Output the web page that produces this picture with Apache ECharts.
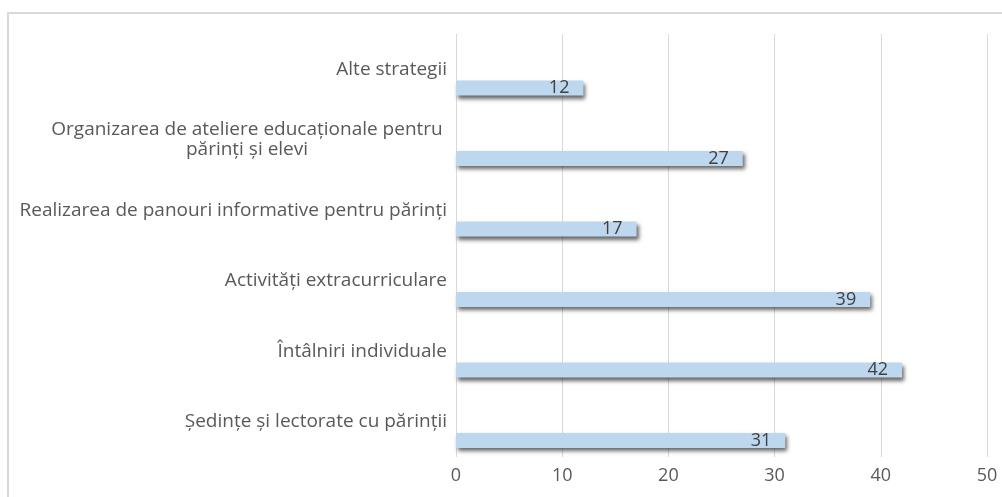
<!DOCTYPE html>
<html>
<head>
<meta charset="utf-8">
<script src="https://cdn.jsdelivr.net/npm/echarts@6/dist/echarts.min.js"></script>
<style>
  html, body { margin: 0; padding: 0; background: #ffffff; }
  #chart { width: 1002px; height: 497px; }
</style>
</head>
<body>
<div id="chart"></div>
<script>
// Strategies, listed top to bottom
const categories = [
  'Alte strategii',
  'Organizarea de ateliere educaționale pentru\npărinți și elevi',
  'Realizarea de panouri informative pentru părinți',
  'Activități extracurriculare',
  'Întâlniri individuale',
  'Ședințe și lectorate cu părinții'
];
// Number of responses per strategy
const values = [12, 27, 17, 39, 42, 31];
// Value axis ticks
const axisMin = 0;
const axisMax = 50;
const axisStep = 10;

const FONT = '"Open Sans", "Liberation Sans", sans-serif';
const chart = echarts.init(document.getElementById('chart'), null, { renderer: 'canvas' });

chart.setOption({
  backgroundColor: '#ffffff',
  animation: false,
  graphic: [{
    type: 'polyline',
    silent: true,
    shape: { points: [[8, 510], [8, 13], [1010, 13]] },
    style: { stroke: '#d9d9d9', lineWidth: 2, fill: null }
  }],
  grid: { left: 456, right: 15, top: 34, bottom: 40 },
  xAxis: {
    type: 'value',
    min: axisMin,
    max: axisMax,
    interval: axisStep,
    axisLine: { show: false },
    axisTick: { show: false },
    axisLabel: { color: '#595959', fontSize: 18, fontFamily: FONT, margin: 10 },
    splitLine: { show: true, lineStyle: { color: '#d9d9d9', width: 1 } }
  },
  yAxis: {
    type: 'category',
    inverse: true,
    data: categories,
    axisLine: { show: false },
    axisTick: { show: false },
    splitLine: { show: false },
    axisLabel: {
      margin: 9,
      color: '#595959',
      fontSize: 19,
      fontFamily: FONT,
      lineHeight: 20,
      // wrapped labels keep their lines centred on one another
      formatter: function (v) {
        const lines = v.split('\n');
        if (lines.length === 1) return v;
        return lines.map(function (line) { return '{c|' + line + '}'; }).join('\n');
      },
      rich: {
        c: { width: 400, align: 'center', color: '#595959', fontSize: 19, fontFamily: FONT, lineHeight: 20 }
      }
    }
  },
  series: [
    {
      // empty slot that pushes each bar below its category label
      type: 'bar',
      silent: true,
      barWidth: 15,
      barGap: '150%',
      data: values.map(function () { return 0; }),
      itemStyle: { color: 'rgba(0,0,0,0)' },
      label: { show: false }
    },
    {
      type: 'bar',
      barWidth: 15,
      barGap: '150%',
      data: values,
      itemStyle: {
        color: '#bdd7ee',
        shadowColor: 'rgba(0,0,0,0.6)',
        shadowBlur: 4,
        shadowOffsetX: 2,
        shadowOffsetY: 3
      },
      label: {
        show: true,
        position: 'insideRight',
        distance: 14,
        color: '#404040',
        fontSize: 18,
        fontFamily: FONT
      }
    }
  ]
});
</script>
</body>
</html>
